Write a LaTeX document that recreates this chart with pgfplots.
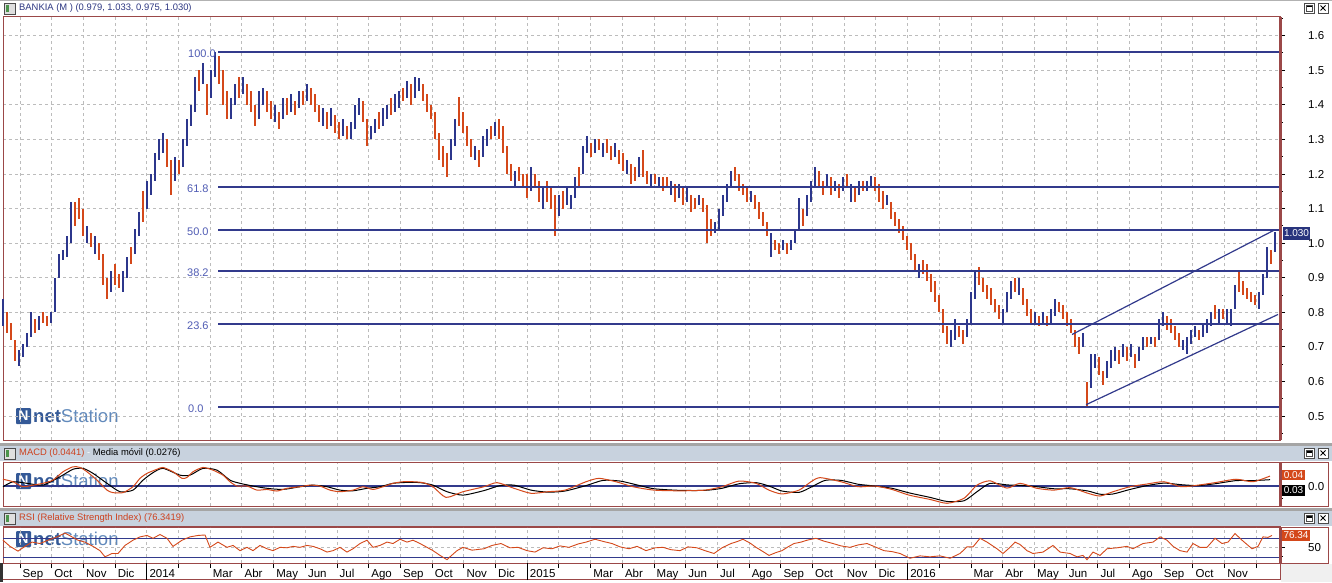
\documentclass[border=0pt]{standalone}
\usepackage{fontspec}
\setmainfont{Liberation Sans}
\usepackage{pgfplots}
\pgfplotsset{compat=1.18}
\usepackage{pgfplotstable}

\definecolor{barblue}{RGB}{44,54,140}
\definecolor{barred}{RGB}{212,72,26}
\definecolor{frame}{RGB}{155,72,72}
\definecolor{gridc}{RGB}{188,188,188}
\definecolor{fibc}{RGB}{50,58,140}
\definecolor{fiblab}{RGB}{80,92,180}
\definecolor{titlebg}{RGB}{200,210,222}
\definecolor{sepc}{RGB}{165,165,165}
\definecolor{titleblue}{RGB}{45,55,130}
\definecolor{macdred}{RGB}{205,65,30}
\definecolor{logoA}{RGB}{30,72,140}
\definecolor{logoB}{RGB}{80,125,180}
\definecolor{pricebox}{RGB}{40,52,125}

% up (blue) bars: px low high
\pgfplotstableread{
px lo hi
3 0.76 0.84
19 0.645 0.69
23 0.67 0.71
27 0.70 0.74
31 0.73 0.80
39 0.75 0.79
51 0.77 0.80
55 0.80 0.90
59 0.90 0.97
63 0.95 0.98
67 0.96 1.02
71 1.00 1.12
87 1.00 1.05
95 0.97 1.02
111 0.86 0.92
123 0.86 0.92
127 0.90 0.96
135 0.97 1.04
139 1.02 1.09
147 1.10 1.18
151 1.14 1.20
155 1.18 1.26
159 1.24 1.30
163 1.26 1.32
175 1.18 1.25
183 1.22 1.30
187 1.28 1.36
191 1.34 1.40
195 1.38 1.48
203 1.46 1.52
211 1.42 1.50
215 1.48 1.553
231 1.36 1.42
235 1.40 1.46
243 1.43 1.48
259 1.36 1.44
263 1.40 1.45
275 1.35 1.40
283 1.36 1.42
291 1.38 1.43
299 1.39 1.44
307 1.41 1.46
323 1.34 1.39
331 1.34 1.39
343 1.31 1.36
351 1.30 1.35
355 1.33 1.40
359 1.37 1.42
371 1.30 1.34
375 1.32 1.36
383 1.34 1.39
387 1.36 1.40
395 1.38 1.43
399 1.39 1.44
407 1.42 1.47
415 1.42 1.48
419 1.44 1.478
451 1.24 1.30
455 1.28 1.36
475 1.24 1.28
483 1.25 1.31
487 1.28 1.33
495 1.31 1.35
515 1.16 1.21
531 1.15 1.22
543 1.10 1.16
559 1.08 1.14
567 1.11 1.16
571 1.10 1.14
575 1.13 1.19
583 1.20 1.28
587 1.26 1.31
595 1.26 1.30
603 1.25 1.29
615 1.25 1.29
627 1.20 1.24
639 1.19 1.25
651 1.16 1.20
659 1.16 1.19
671 1.14 1.18
679 1.13 1.17
687 1.12 1.16
699 1.11 1.14
715 1.03 1.06
719 1.04 1.10
723 1.08 1.14
727 1.12 1.17
731 1.16 1.21
751 1.12 1.15
771 0.96 1.03
783 0.98 1.01
791 0.98 1.01
795 1.00 1.04
799 1.04 1.13
807 1.08 1.14
811 1.12 1.18
815 1.16 1.22
827 1.16 1.20
835 1.15 1.18
843 1.15 1.19
851 1.12 1.17
859 1.14 1.18
867 1.15 1.18
871 1.16 1.195
887 1.11 1.14
919 0.90 0.94
951 0.70 0.75
955 0.72 0.78
967 0.73 0.78
971 0.77 0.86
975 0.84 0.92
1003 0.77 0.81
1007 0.80 0.86
1011 0.84 0.89
1019 0.85 0.90
1035 0.77 0.80
1043 0.77 0.80
1051 0.77 0.81
1055 0.79 0.84
1083 0.70 0.74
1091 0.58 0.68
1095 0.64 0.68
1107 0.61 0.66
1111 0.64 0.69
1115 0.66 0.70
1123 0.67 0.71
1131 0.67 0.71
1139 0.66 0.70
1143 0.69 0.73
1151 0.71 0.73
1159 0.72 0.78
1163 0.76 0.80
1183 0.69 0.72
1187 0.68 0.73
1191 0.71 0.75
1195 0.73 0.76
1203 0.73 0.77
1207 0.74 0.78
1211 0.76 0.80
1219 0.77 0.81
1227 0.77 0.81
1231 0.76 0.81
1235 0.81 0.88
1259 0.81 0.86
1263 0.85 0.91
1267 0.90 0.99
1275 0.975 1.033
}\upbars

% down (red) bars: px low high
\pgfplotstableread{
px lo hi
7 0.74 0.80
11 0.72 0.77
15 0.66 0.72
35 0.74 0.78
43 0.77 0.80
47 0.76 0.79
75 1.05 1.12
79 1.07 1.13
83 1.02 1.10
91 0.99 1.03
99 0.95 1.00
103 0.88 0.97
107 0.84 0.90
115 0.88 0.94
119 0.87 0.91
131 0.94 0.99
143 1.06 1.15
167 1.22 1.30
171 1.14 1.24
179 1.20 1.24
199 1.44 1.50
207 1.37 1.46
219 1.46 1.54
223 1.40 1.50
227 1.36 1.44
239 1.42 1.48
247 1.40 1.46
251 1.38 1.44
255 1.34 1.40
267 1.38 1.44
271 1.36 1.41
279 1.33 1.38
287 1.37 1.42
295 1.37 1.41
303 1.40 1.44
311 1.40 1.45
315 1.38 1.43
319 1.35 1.40
327 1.33 1.38
335 1.32 1.37
339 1.30 1.35
347 1.30 1.34
363 1.35 1.41
367 1.28 1.36
379 1.33 1.38
391 1.37 1.42
403 1.41 1.45
411 1.40 1.46
423 1.41 1.46
427 1.38 1.43
431 1.36 1.40
435 1.30 1.38
439 1.24 1.32
443 1.22 1.28
447 1.19 1.26
459 1.34 1.424
463 1.32 1.38
467 1.28 1.34
471 1.25 1.30
479 1.22 1.27
491 1.30 1.34
499 1.30 1.36
503 1.26 1.34
507 1.20 1.28
511 1.18 1.23
519 1.18 1.22
523 1.16 1.20
527 1.13 1.20
535 1.16 1.20
539 1.12 1.18
547 1.12 1.18
551 1.10 1.16
555 1.02 1.14
563 1.10 1.15
579 1.16 1.22
591 1.25 1.29
599 1.27 1.30
607 1.26 1.30
611 1.24 1.28
619 1.23 1.27
623 1.21 1.26
631 1.17 1.23
635 1.18 1.22
643 1.19 1.27
647 1.17 1.21
655 1.17 1.20
663 1.15 1.19
667 1.16 1.19
675 1.12 1.17
683 1.11 1.16
691 1.09 1.14
695 1.10 1.13
703 1.09 1.13
707 1.00 1.11
711 1.02 1.07
735 1.18 1.22
739 1.15 1.20
743 1.14 1.17
747 1.12 1.16
755 1.10 1.14
759 1.07 1.12
763 1.05 1.09
767 1.02 1.06
775 0.98 1.01
779 0.97 1.00
787 0.97 1.00
803 1.05 1.10
819 1.16 1.21
823 1.14 1.18
831 1.14 1.19
839 1.13 1.17
847 1.16 1.20
855 1.12 1.16
863 1.15 1.18
875 1.15 1.19
879 1.12 1.17
883 1.10 1.15
891 1.07 1.12
895 1.05 1.09
899 1.03 1.07
903 1.01 1.05
907 0.98 1.02
911 0.95 1.00
915 0.92 0.97
923 0.91 0.95
927 0.89 0.94
931 0.86 0.91
935 0.83 0.89
939 0.80 0.85
943 0.74 0.81
947 0.71 0.76
959 0.73 0.76
963 0.71 0.75
979 0.88 0.93
983 0.86 0.90
987 0.84 0.88
991 0.82 0.87
995 0.80 0.84
999 0.78 0.82
1015 0.86 0.90
1023 0.82 0.87
1027 0.79 0.84
1031 0.77 0.81
1039 0.76 0.79
1047 0.76 0.79
1059 0.80 0.83
1063 0.78 0.82
1067 0.76 0.80
1071 0.74 0.78
1075 0.70 0.75
1079 0.68 0.73
1087 0.526 0.60
1099 0.62 0.67
1103 0.59 0.63
1119 0.65 0.69
1127 0.66 0.70
1135 0.64 0.68
1147 0.70 0.73
1155 0.70 0.73
1167 0.75 0.79
1171 0.74 0.78
1175 0.72 0.76
1179 0.70 0.74
1199 0.72 0.75
1215 0.78 0.82
1223 0.78 0.81
1239 0.86 0.92
1243 0.85 0.89
1247 0.84 0.87
1251 0.83 0.86
1255 0.82 0.85
1271 0.94 0.98
}\downbars

\pgfplotstableread{
px v
3 0.030
13 0.019
23 -0.003
33 0.004
43 0.012
53 0.026
63 0.063
73 0.085
80 0.082
87 0.063
97 0.026
107 -0.018
113 -0.029
123 -0.029
133 -0.003
140 0.034
147 0.056
157 0.074
163 0.082
173 0.063
182 0.034
187 0.038
193 0.063
203 0.082
213 0.070
223 0.048
230 0.019
237 0.000
247 0.000
257 -0.018
267 -0.015
277 -0.022
287 -0.010
300 -0.003
310 0.004
320 0.000
330 -0.018
340 -0.025
353 -0.018
363 -0.003
373 -0.015
383 -0.003
393 0.012
403 0.019
413 0.019
423 0.015
433 -0.003
446 -0.050
463 -0.025
484 -0.003
497 0.015
514 -0.010
531 -0.032
548 -0.025
565 -0.018
586 0.019
599 0.034
616 0.019
633 -0.003
654 -0.018
680 -0.021
705 -0.018
722 -0.003
739 0.022
756 0.012
769 -0.018
782 -0.035
799 -0.018
811 0.019
820 0.037
841 0.019
858 -0.003
875 0.000
892 -0.015
909 -0.040
930 -0.059
947 -0.076
964 -0.054
977 0.004
990 0.023
1007 -0.009
1020 0.012
1037 -0.010
1054 -0.018
1070 -0.007
1088 -0.032
1100 -0.044
1113 -0.025
1130 -0.003
1147 0.009
1164 0.019
1181 -0.003
1198 0.004
1215 0.015
1236 0.030
1253 0.019
1270 0.044
}\macd

\pgfplotstableread{
px v
3 -0.003
13 0.019
27 0.012
43 0.004
60 0.041
73 0.074
83 0.078
93 0.056
107 0.012
120 -0.025
133 -0.018
143 0.026
153 0.059
163 0.078
180 0.048
190 0.048
203 0.078
217 0.070
230 0.026
240 0.012
253 0.000
267 -0.010
283 -0.015
300 -0.003
313 0.004
327 -0.003
340 -0.018
353 -0.021
367 -0.010
380 -0.003
393 0.012
407 0.016
420 0.015
433 0.004
447 -0.025
463 -0.040
484 -0.020
500 0.002
514 0.004
531 -0.018
548 -0.027
565 -0.022
586 0.002
603 0.025
620 0.022
637 0.005
654 -0.012
680 -0.019
705 -0.019
722 -0.010
739 0.010
756 0.015
769 0.000
782 -0.022
799 -0.028
811 -0.005
825 0.025
841 0.025
858 0.008
875 0.000
892 -0.010
909 -0.030
930 -0.050
947 -0.068
964 -0.065
977 -0.025
990 0.012
1007 0.005
1020 0.003
1037 -0.003
1054 -0.012
1070 -0.012
1088 -0.022
1100 -0.036
1113 -0.035
1130 -0.015
1147 0.002
1164 0.013
1181 0.006
1198 0.002
1215 0.010
1236 0.024
1253 0.024
1270 0.028
}\signal

\pgfplotstableread{
px v
3 66
10 53
18 43
25 53
32 62
40 59
48 66
57 73
65 81
72 73
78 66
85 62
93 53
100 44
105 31
112 38
118 38
125 55
133 66
140 73
147 76
153 70
160 78
167 70
173 53
182 66
190 73
198 76
205 77
210 51
218 62
227 51
233 55
240 44
247 51
253 44
260 55
267 48
273 44
280 51
287 50
293 53
300 51
307 55
313 53
320 48
327 41
333 44
340 51
347 41
353 48
360 59
367 66
373 51
380 55
387 62
393 59
400 68
407 62
413 66
420 59
427 51
433 44
440 34
447 25
450 31
457 44
463 51
472 45
484 48
492 55
501 59
510 50
518 51
527 44
535 41
543 50
552 48
560 54
569 51
578 58
586 62
595 68
604 63
612 59
620 52
629 48
637 53
646 44
655 50
663 51
671 46
680 44
688 52
697 50
705 44
714 38
722 50
731 59
737 63
743 68
750 60
756 51
763 42
769 34
776 40
782 44
788 52
794 59
801 62
807 66
816 70
824 64
833 59
841 54
850 51
858 56
867 59
875 52
884 44
892 42
900 38
910 28
920 33
930 31
940 33
950 28
960 38
967 52
973 52
980 70
987 62
997 48
1003 38
1010 51
1015 62
1020 57
1027 44
1033 38
1043 41
1053 55
1060 41
1070 38
1077 31
1083 34
1087 25
1093 41
1100 34
1107 48
1117 50
1127 53
1133 48
1143 59
1153 62
1160 73
1167 66
1173 53
1180 44
1187 41
1193 59
1200 51
1207 51
1215 70
1222 59
1228 62
1235 80
1242 66
1252 48
1258 53
1263 73
1268 72
1272 76
}\rsi

\pgfplotsset{
  panel/.style={
    scale only axis, width=1277pt, xmin=3, xmax=1280,
    axis line style={draw=frame, line width=1pt},
    xtick={20,51.7,...,1257},
    xticklabels={},
    xmajorgrids,
    major grid style={draw=gridc, dash pattern=on 3pt off 3pt, line width=1pt},
    ytick pos=right, yticklabel pos=right,
    tick align=outside,
    major tick length=5pt, minor tick length=3pt,
    every tick/.style={black, line width=1pt},
    yticklabel style={font=\fontsize{11.5}{12}\selectfont, anchor=west, inner sep=0pt, xshift=23pt},
    /pgf/number format/assume math mode=true,
    clip=false,
  },
}

\newcommand{\netlogo}[2]{%
  \fill[logoA, opacity=0.9, rounded corners=1pt] (#1pt,#2pt-8pt) rectangle (#1pt+15pt,#2pt+8pt);
  \node[white, inner sep=0, font=\bfseries\fontsize{14}{14}\selectfont] at (#1pt+7.5pt,#2pt) {N};
  \node[anchor=west, inner sep=0, font=\fontsize{18.5}{18.5}\selectfont, opacity=0.9] at (#1pt+17pt,#2pt) {\textcolor{logoA}{\textbf{net}}\textcolor{logoB}{Station}};
}
\newcommand{\winicon}[2]{%
  \fill[gray!25] (#1pt,#2pt) rectangle (#1pt+11pt,#2pt+11pt);
  \draw[gray!60!black, line width=0.6pt] (#1pt,#2pt) rectangle (#1pt+11pt,#2pt+11pt);
  \fill[green!40!black!70] (#1pt+2pt,#2pt+2pt) rectangle (#1pt+4.5pt,#2pt+9pt);
}
\newcommand{\winbtns}[2]{%
  \draw[black!70, fill=white, line width=0.6pt] (#1pt,#2pt) rectangle (#1pt+10pt,#2pt+10pt);
  \fill[black] (#1pt+2pt,#2pt+5.5pt) rectangle (#1pt+8pt,#2pt+7.5pt);
  \draw[black!70, line width=0.6pt] (#1pt+2pt,#2pt+2pt) rectangle (#1pt+8pt,#2pt+7.5pt);
  \draw[black!70, fill=white, line width=0.6pt] (#1pt+14pt,#2pt) rectangle (#1pt+24pt,#2pt+10pt);
  \draw[black, line width=0.8pt] (#1pt+16.5pt,#2pt+2.5pt) -- (#1pt+21.5pt,#2pt+7.5pt) (#1pt+16.5pt,#2pt+7.5pt) -- (#1pt+21.5pt,#2pt+2.5pt);
}

\begin{document}
\begin{tikzpicture}
\useasboundingbox (0pt,0pt) rectangle (1332pt,582pt);
\fill[white] (0pt,0pt) rectangle (1332pt,582pt);
\fill[gray!60] (0pt,580.6pt) rectangle (1332pt,582pt);
% title row
\winicon{4}{568}
\node[anchor=west, inner sep=0, font=\fontsize{9.4}{10}\selectfont, text=titleblue] at (19pt,574pt) {BANKIA (M ) (0.979, 1.033, 0.975, 1.030)};
\winbtns{1304}{569}
% separators and title bars
\fill[sepc] (0pt,136.5pt) rectangle (1332pt,139.5pt);
\fill[titlebg] (0pt,121pt) rectangle (1332pt,136.5pt);
\fill[sepc] (0pt,71pt) rectangle (1332pt,74pt);
\fill[titlebg] (0pt,56pt) rectangle (1332pt,71pt);
\winicon{4}{123}
\winicon{4}{58}
\node[anchor=west, inner sep=0, font=\fontsize{9.4}{10}\selectfont] at (19pt,128.5pt) {\textcolor{macdred}{MACD (0.0441)} \textcolor{white}{-} Media móvil (0.0276)};
\node[anchor=west, inner sep=0, font=\fontsize{9.4}{10}\selectfont] at (19pt,63.5pt) {\textcolor{macdred}{RSI (Relative Strength Index) (76.3419)}};
\winbtns{1304}{124}
\winbtns{1304}{59}
% bottom right grey
\fill[gray!12] (1281pt,0pt) rectangle (1332pt,18.5pt);
% panel frames
\draw[frame, line width=1pt] (3pt,76pt) rectangle (1328pt,120pt);
\draw[frame, line width=1pt] (3pt,19pt) rectangle (1328pt,55pt);
\draw[frame, line width=1pt] (3pt,3pt) -- (1280pt,3pt) -- (1280pt,19pt);
\fill[black!80] (0pt,0pt) rectangle (2.5pt,19pt);
% watermark logos
\netlogo{16}{166}
\netlogo{16}{101}
\netlogo{16}{43}

% ---------------- main price panel
\begin{axis}[panel, at={(3pt,142pt)}, anchor=south west, height=423pt,
  ymin=0.431, ymax=1.654,
  ytick={0.5,0.6,0.7,0.8,0.9,1.0,1.1,1.2,1.3,1.4,1.5,1.6},
  minor ytick={0.45,0.55,0.65,0.75,0.85,0.95,1.05,1.15,1.25,1.35,1.45,1.55,1.65},
  ymajorgrids,
  yticklabel style={/pgf/number format/.cd, fixed, fixed zerofill, precision=1},
  xtick style={draw=none},
]
\addplot[draw=none, mark=none,
  error bars/.cd, y dir=both, y explicit, error mark=none,
  error bar style={draw=barblue, line width=2pt}]
  table[x=px, y expr=0.5*(\thisrow{lo}+\thisrow{hi}), y error expr=0.5*(\thisrow{hi}-\thisrow{lo})] {\upbars};
\addplot[draw=none, mark=none,
  error bars/.cd, y dir=both, y explicit, error mark=none,
  error bar style={draw=barred, line width=2pt}]
  table[x=px, y expr=0.5*(\thisrow{lo}+\thisrow{hi}), y error expr=0.5*(\thisrow{hi}-\thisrow{lo})] {\downbars};
% Fibonacci retracement levels (high 1.553, low 0.526)
\addplot[fibc, line width=2pt] coordinates {(218,1.5528) (1280,1.5528)};
\addplot[fibc, line width=2pt] coordinates {(218,1.1625) (1280,1.1625)};
\addplot[fibc, line width=2pt] coordinates {(218,1.0382) (1280,1.0382)};
\addplot[fibc, line width=2pt] coordinates {(218,0.9196) (1280,0.9196)};
\addplot[fibc, line width=2pt] coordinates {(218,0.7664) (1280,0.7664)};
\addplot[fibc, line width=2pt] coordinates {(218,0.5264) (1280,0.5264)};
% trend channel
\addplot[fibc, line width=1.2pt] coordinates {(1072,0.736) (1275,1.039)};
\addplot[fibc, line width=1.2pt] coordinates {(1086,0.533) (1278,0.794)};
\begin{scope}[every node/.style={anchor=west, inner sep=0, font=\fontsize{11}{11}\selectfont, text=fiblab, yshift=-2pt}]
\node at (axis cs:188,1.5528) {100.0};
\node at (axis cs:187,1.1625) {61.8};
\node at (axis cs:187,1.0382) {50.0};
\node at (axis cs:187,0.9196) {38.2};
\node at (axis cs:187,0.7664) {23.6};
\node at (axis cs:188,0.5264) {0.0};
\end{scope}
\end{axis}
\draw[frame, line width=2.5pt] (1280.5pt,142pt) -- (1280.5pt,565pt);
\node[fill=pricebox, text=white, inner sep=0pt, font=\fontsize{10}{10}\selectfont, minimum width=27pt, minimum height=13pt] at (1296.5pt,348.5pt) {1.030};

% ---------------- MACD panel
\begin{axis}[panel, at={(3pt,76pt)}, anchor=south west, height=44pt,
  ymin=-0.088, ymax=0.106,
  ytick={0}, yticklabels={0.0}, minor ytick={-0.057,0.057},
  xtick style={draw=none},
]
\addplot[fibc, line width=1.5pt] coordinates {(3,0) (1280,0)};
\addplot[black, line width=1pt, smooth, tension=0.4] table[x=px, y=v] {\signal};
\addplot[barred, line width=1pt, smooth, tension=0.4] table[x=px, y=v] {\macd};
\end{axis}
\draw[frame, line width=2.5pt] (1280.5pt,76pt) -- (1280.5pt,120pt);
\node[fill=barred, text=white, inner sep=0pt, font=\fontsize{10}{10}\selectfont, minimum width=23pt, minimum height=10.5pt] at (1293.5pt,107pt) {0.04};
\node[fill=black, text=white, inner sep=0pt, font=\fontsize{10}{10}\selectfont, minimum width=23pt, minimum height=11pt] at (1293.5pt,92pt) {0.03};

% ---------------- RSI panel
\begin{axis}[panel, at={(3pt,19pt)}, anchor=south west, height=36pt,
  ymin=18, ymax=93.8,
  ytick={50}, minor ytick={31},
  ymajorgrids,
  xtick pos=left,
  xticklabels={Sep,Oct,Nov,Dic,2014,,Mar,Abr,May,Jun,Jul,Ago,Sep,Oct,Nov,Dic,2015,,Mar,Abr,May,Jun,Jul,Ago,Sep,Oct,Nov,Dic,2016,,Mar,Abr,May,Jun,Jul,Ago,Sep,Oct,Nov,},
  xticklabel style={font=\fontsize{11.5}{12}\selectfont, anchor=north west, inner sep=0pt, xshift=2.5pt, yshift=-1pt},
  extra x ticks={146.8,527.2,907.6},
  extra x tick labels={},
  extra x tick style={grid=none, major tick length=17pt, every tick/.style={black, line width=1.2pt}},
]
\addplot[fibc, line width=1.5pt] coordinates {(3,70) (1280,70)};
\addplot[fibc, line width=1.5pt] coordinates {(3,30) (1280,30)};
\addplot[barred, line width=0.9pt] table[x=px, y=v] {\rsi};
\end{axis}
\draw[frame, line width=2.5pt] (1280.5pt,19pt) -- (1280.5pt,55pt);
\node[fill=barred, text=white, inner sep=0pt, font=\fontsize{10}{10}\selectfont, minimum width=28pt, minimum height=10.5pt] at (1296pt,46.5pt) {76.34};
\end{tikzpicture}
\end{document}
